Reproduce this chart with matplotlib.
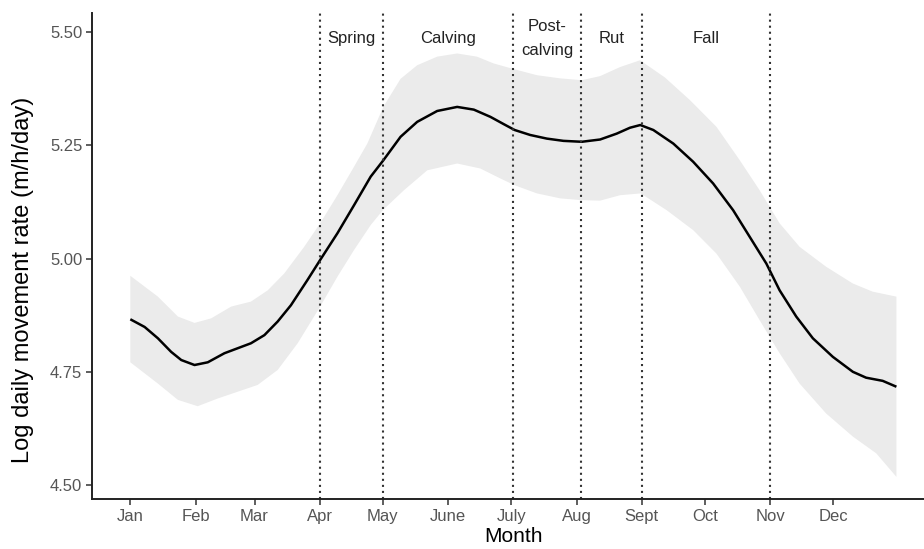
import matplotlib
matplotlib.use("Agg")
import matplotlib.pyplot as plt
import numpy as np

plt.rcParams['font.family'] = ['Liberation Sans', 'DejaVu Sans']

# fitted curve (day of year, log rate)
fit_day = [1, 7.8, 14.1, 20.4, 25.2, 31.5, 37.8, 45.7, 52, 58.3, 64.7, 71,
           77.3, 85.2, 91.2, 99.4, 107.3, 115.2, 121.2, 129.4, 137.3, 146.8,
           156.3, 164.2, 172.1, 178.4, 183.6, 191, 198.9, 206.8, 215.5, 224.2,
           232.1, 238.4, 243.3, 249.5, 259, 268.4, 277.9, 287.4, 295.3, 303.2,
           309.5, 317.4, 325.3, 334.8, 344.3, 350.6, 358.5, 365]
fit = [4.866, 4.849, 4.824, 4.794, 4.776, 4.765, 4.771, 4.791, 4.802, 4.813,
       4.831, 4.861, 4.897, 4.953, 4.997, 5.056, 5.118, 5.181, 5.217, 5.269,
       5.302, 5.326, 5.335, 5.329, 5.313, 5.297, 5.284, 5.273, 5.265, 5.260,
       5.258, 5.263, 5.276, 5.289, 5.295, 5.284, 5.254, 5.214, 5.166, 5.107,
       5.048, 4.989, 4.930, 4.872, 4.824, 4.783, 4.750, 4.737, 4.730, 4.717]

# upper edge of the confidence band
up_day = [1, 14.1, 23.6, 31.5, 39.4, 48.9, 58.3, 66.3, 74.1, 83.6, 91.2, 99.4,
          107.3, 113.6, 121.2, 129.4, 137.3, 146.8, 156.3, 165.7, 173.6, 183.6,
          194.2, 205.3, 215.5, 224.2, 233.7, 243.2, 255, 266.9, 279.5, 290.6,
          300, 309.5, 319, 331.6, 344.3, 353.7, 365]
upper = [4.962, 4.916, 4.872, 4.858, 4.868, 4.894, 4.905, 4.930, 4.967, 5.026,
         5.078, 5.140, 5.203, 5.254, 5.335, 5.397, 5.427, 5.446, 5.453, 5.446,
         5.431, 5.418, 5.405, 5.398, 5.394, 5.403, 5.423, 5.438, 5.400, 5.350,
         5.291, 5.217, 5.151, 5.078, 5.026, 4.982, 4.945, 4.927, 4.916]

# lower edge of the confidence band
lo_day = [1, 14.1, 23.6, 33, 42.5, 52, 61.5, 71, 80.5, 91.2, 99.4, 107.3,
          115.2, 121.2, 131, 142.1, 156.3, 167.3, 176.8, 183.6, 194.2, 205.3,
          215.5, 224.2, 233.7, 243.5, 255.8, 268.4, 279.5, 290.6, 300, 309.5,
          319, 331.6, 344.3, 355.4, 365]
lower = [4.771, 4.724, 4.688, 4.674, 4.691, 4.706, 4.721, 4.754, 4.813, 4.894,
         4.960, 5.019, 5.074, 5.108, 5.151, 5.195, 5.210, 5.199, 5.177, 5.162,
         5.144, 5.133, 5.129, 5.128, 5.140, 5.144, 5.107, 5.063, 5.011, 4.938,
         4.864, 4.791, 4.724, 4.658, 4.607, 4.570, 4.518]

month_days = [1, 32, 60, 91, 121, 152, 182, 213, 244, 274, 305, 335]
month_labels = ['Jan', 'Feb', 'Mar', 'Apr', 'May', 'June', 'July', 'Aug',
                'Sept', 'Oct', 'Nov', 'Dec']

season_bounds = [91, 121, 183, 215, 244, 305]
season_names = ['Spring', 'Calving', 'Post-\ncalving', 'Rut', 'Fall']

yticks = [4.50, 4.75, 5.00, 5.25, 5.50]

fig = plt.figure(figsize=(9.24, 5.49), dpi=100)
ax = fig.add_axes([0.0996, 0.091, 0.912, 0.885])

band_x = up_day + lo_day[::-1]
band_y = upper + lower[::-1]
ax.fill(band_x, band_y, color='#ebebeb', lw=0)
ax.plot(fit_day, fit, color='black', lw=1.8, solid_capstyle='butt',
        solid_joinstyle='round')

for b in season_bounds:
    ax.axvline(b, color='#333333', lw=1.5, ls=(0, (1, 1.9)))

for i, name in enumerate(season_names):
    mid = (season_bounds[i] + season_bounds[i + 1]) / 2
    ax.text(mid, 5.486, name, ha='center', va='center', fontsize=12,
            color='#222222', linespacing=1.75)

ax.set_xlim(-17.2, 383.2)
ax.set_ylim(4.469, 5.542)
ax.set_xticks(month_days)
ax.set_xticklabels(month_labels)
ax.set_yticks(yticks)
ax.set_yticklabels(['%.2f' % t for t in yticks])

for s in ['top', 'right']:
    ax.spines[s].set_visible(False)
for s in ['left', 'bottom']:
    ax.spines[s].set_linewidth(1.4)
    ax.spines[s].set_color('#222222')
ax.tick_params(axis='both', length=4, width=1.1, color='#333333',
               labelcolor='#555555', labelsize=12, pad=3)

ax.set_xlabel('Month', fontsize=15, labelpad=2)
ax.set_ylabel('Log daily movement rate (m/h/day)', fontsize=17)
ax.yaxis.set_label_coords(-0.069, 0.451)

fig.savefig('out.png', dpi=100)
